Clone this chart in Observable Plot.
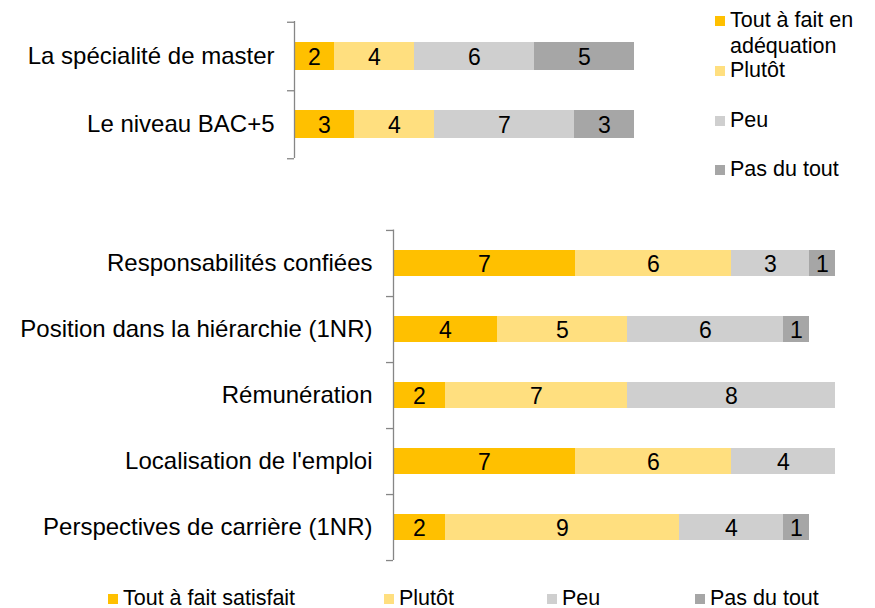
<!DOCTYPE html>
<html><head><meta charset="utf-8">
<script src="https://cdn.jsdelivr.net/npm/d3@7"></script>
<script src="https://cdn.jsdelivr.net/npm/@observablehq/plot@0.6"></script>
<style>
body{margin:0;background:#fff;font-family:"Liberation Sans",Arial,sans-serif;}
#wrap{position:relative;width:875px;height:608px;overflow:hidden;}
#wrap svg{position:absolute;left:0;overflow:visible;}
.leg{position:absolute;font-size:21.5px;color:#000;line-height:26px;white-space:nowrap;}
.sw{display:inline-block;width:10px;height:10px;margin-right:5px;vertical-align:1px;}
</style></head><body>
<div id="wrap"></div>
<script>
const topCats = ["La spécialité de master", "Le niveau BAC+5"];
const topSeries = ["Tout à fait en adéquation", "Plutôt", "Peu", "Pas du tout"];
const topValues = [[2, 4, 6, 5], [3, 4, 7, 3]];
const botCats = ["Responsabilités confiées", "Position dans la hiérarchie (1NR)", "Rémunération", "Localisation de l'emploi", "Perspectives de carrière (1NR)"];
const botSeries = ["Tout à fait satisfait", "Plutôt", "Peu", "Pas du tout"];
const botValues = [[7, 6, 3, 1], [4, 5, 6, 1], [2, 7, 8, 0], [7, 6, 4, 0], [2, 9, 4, 1]];
const colors = ["#FFC000", "#FFDF7F", "#CFCFCF", "#A6A6A6"];
const xMax = 17;

function rows(cats, series, values) {
  const out = [];
  cats.forEach((c, i) => series.forEach((s, j) => { if (values[i][j] > 0) out.push({cat: c, series: s, value: values[i][j]}); }));
  return out;
}

function chart(cats, series, values, o) {
  const data = rows(cats, series, values);
  const step = (o.height - o.marginTop - o.marginBottom) / cats.length;
  const svg = Plot.plot({
    width: 875, height: o.height,
    marginLeft: o.marginLeft, marginRight: o.marginRight, marginTop: o.marginTop, marginBottom: o.marginBottom,
    style: {fontFamily: '"Liberation Sans", Arial, sans-serif', fontSize: "23px", color: "#000", background: "transparent"},
    x: {domain: [0, xMax], axis: null},
    y: {domain: cats, padding: o.pad, paddingOuter: o.pad / 2},
    color: {domain: series, range: colors},
    marks: [
      Plot.barX(data, Plot.stackX({x: "value", y: "cat", fill: "series", order: null})),
      Plot.text(data, Plot.stackX({x: "value", y: "cat", z: "series", text: "value", order: null, fill: "#000", fontSize: 23, dy: 1})),
      Plot.ruleX([0], {stroke: "#868686", strokeWidth: 1.3}),
      Plot.ruleY(cats, {y: d => d, x1: 0, x2: 0, insetLeft: -7, dy: step / 2, stroke: "#868686", strokeWidth: 1.3}),
      Plot.ruleY(cats.slice(0, 1), {y: d => d, x1: 0, x2: 0, insetLeft: -7, dy: -step / 2, stroke: "#868686", strokeWidth: 1.3}),
      Plot.axisY({tickSize: 0, tickPadding: o.tickPad, fontSize: 24, fill: "#000", label: null})
    ]
  });
  svg.style.top = o.top + "px";
  return svg;
}

const wrap = document.getElementById("wrap");
wrap.appendChild(chart(topCats, topSeries, topValues, {top: 0, height: 190, marginTop: 21, marginBottom: 32, marginLeft: 294, marginRight: 241, pad: 0.59, tickPad: 20}));
wrap.appendChild(chart(botCats, botSeries, botValues, {top: 190, height: 390, marginTop: 39.5, marginBottom: 20, marginLeft: 393, marginRight: 40, pad: 0.6, tickPad: 21}));

// right legend (top chart)
const tops = [6.5, 56.5, 106.5, 155.5];
topSeries.forEach((s, j) => {
  const d = document.createElement("div");
  d.className = "leg";
  d.style.left = "715px"; d.style.top = tops[j] + "px";
  d.style.width = "145px"; d.style.whiteSpace = "normal";
  d.style.paddingLeft = "15px"; d.style.textIndent = "-15px";
  d.innerHTML = `<span class="sw" style="background:${colors[j]}"></span>${s}`;
  wrap.appendChild(d);
});

// bottom legend
const bl = [108, 384, 547, 695];
botSeries.forEach((s, j) => {
  const d = document.createElement("div");
  d.className = "leg"; d.style.left = bl[j] + "px"; d.style.top = "584.5px";
  d.innerHTML = `<span class="sw" style="background:${colors[j]}"></span>${s}`;
  wrap.appendChild(d);
});
</script>
</body></html>
